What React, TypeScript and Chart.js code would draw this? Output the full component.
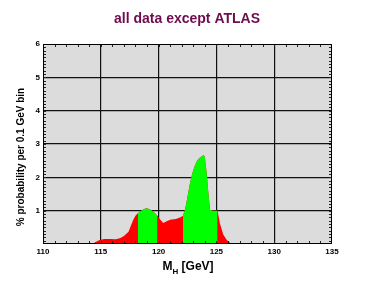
import { useEffect, useRef } from 'react';
import { Chart, registerables } from 'chart.js';

Chart.register(...registerables);

// Higgs mass (GeV) and probability (% per 0.1 GeV bin)
const massGeV = [
  114.3, 114.5, 114.9, 115.3, 115.8, 116.3, 116.7, 117.0, 117.4, 117.6, 117.8, 118.0,
  118.2, 118.5, 118.8, 119.0, 119.3, 119.6, 119.9,
  120.1, 120.4, 120.7, 121.0, 121.5, 121.9,
  122.1, 122.3, 122.5, 122.7, 122.9, 123.1, 123.3, 123.5, 123.7, 123.9, 124.0, 124.15, 124.3, 124.45, 124.7, 125.1,
  125.3, 125.6, 125.9, 126.3,
];
const probPercent = [
  0.0, 0.05, 0.12, 0.15, 0.15, 0.14, 0.18, 0.24, 0.37, 0.55, 0.72, 0.85,
  0.92, 1.0, 1.06, 1.07, 1.03, 0.95, 0.85,
  0.75, 0.63, 0.68, 0.73, 0.75, 0.8,
  0.85, 1.05, 1.42, 1.8, 2.1, 2.32, 2.48, 2.57, 2.62, 2.67, 2.6, 2.15, 1.55, 1.02, 1.0, 1.0,
  0.62, 0.28, 0.12, 0.0,
];
// 1-sigma (green) mass ranges
const greenBandStart = [118.2, 122.1];
const greenBandEnd = [119.9, 125.1];

const xTickValues = [110, 115, 120, 125, 130, 135];
const yTickValues = [0, 1, 2, 3, 4, 5, 6];
const titleText = 'all data except ATLAS';
const yTitleText = '% probability per 0.1 GeV bin';
const xTitleMain = 'M';
const xTitleSub = 'H';
const xTitleRest = ' [GeV]';

export default function App() {
  const ref = useRef<HTMLCanvasElement>(null);

  useEffect(() => {
    const canvas = ref.current;
    if (!canvas) return;
    const pts = massGeV.map((x, i) => ({ x, y: probPercent[i] }));
    const greens = greenBandStart.map((a, k) =>
      pts.filter((p) => p.x >= a - 1e-9 && p.x <= greenBandEnd[k] + 1e-9)
    );

    const decor = {
      id: 'decor',
      beforeDraw(chart: any) {
        const { ctx, chartArea: a } = chart;
        ctx.save();
        ctx.fillStyle = '#dcdcdc';
        ctx.fillRect(a.left, a.top, a.right - a.left, a.bottom - a.top);
        ctx.restore();
      },
      afterDraw(chart: any) {
        const { ctx, chartArea: a, scales } = chart;
        const xs = scales.x;
        const ys = scales.y;
        ctx.save();
        // minor ticks
        ctx.strokeStyle = '#222';
        ctx.lineWidth = 1;
        ctx.beginPath();
        for (let v = 111; v < 135; v++) {
          const px = Math.round(xs.getPixelForValue(v)) + 0.5;
          ctx.moveTo(px, a.bottom);
          ctx.lineTo(px, a.bottom - 3);
          ctx.moveTo(px, a.top);
          ctx.lineTo(px, a.top + 3);
        }
        for (let i = 1; i < 60; i++) {
          const py = Math.round(ys.getPixelForValue(i / 10)) + 0.5;
          ctx.moveTo(a.left, py);
          ctx.lineTo(a.left + 3, py);
          ctx.moveTo(a.right, py);
          ctx.lineTo(a.right - 3, py);
        }
        ctx.stroke();
        // border
        ctx.strokeStyle = '#000';
        ctx.lineWidth = 1;
        ctx.strokeRect(a.left + 0.5, a.top + 0.5, a.right - a.left - 1, a.bottom - a.top - 1);

        // main title
        ctx.fillStyle = '#6e0c4e';
        ctx.font = 'bold 14px "Liberation Sans", Arial, sans-serif';
        ctx.textAlign = 'center';
        ctx.textBaseline = 'alphabetic';
        ctx.fillText(titleText, 187, 22.5);

        // y title
        ctx.fillStyle = '#000';
        ctx.save();
        ctx.translate(21, 157);
        ctx.rotate(-Math.PI / 2);
        ctx.font = 'bold 10px "Liberation Sans", Arial, sans-serif';
        ctx.textAlign = 'center';
        ctx.textBaseline = 'middle';
        ctx.fillText(yTitleText, 0, 0);
        ctx.restore();

        // x title with subscript
        const big = 'bold 12px "Liberation Sans", Arial, sans-serif';
        const small = 'bold 8px "Liberation Sans", Arial, sans-serif';
        ctx.textAlign = 'left';
        ctx.font = big;
        const w1 = ctx.measureText(xTitleMain).width;
        const w3 = ctx.measureText(xTitleRest).width;
        ctx.font = small;
        const w2 = ctx.measureText(xTitleSub).width;
        let x0 = 188 - (w1 + w2 + w3) / 2;
        ctx.font = big;
        ctx.fillText(xTitleMain, x0, 270);
        x0 += w1;
        ctx.font = small;
        ctx.fillText(xTitleSub, x0, 274);
        x0 += w2;
        ctx.font = big;
        ctx.fillText(xTitleRest, x0, 270);
        ctx.restore();
      },
    };

    const tickFont = { family: '"Liberation Sans", Arial, sans-serif', size: 8, weight: 'bold' as const };

    const chart = new Chart(canvas, {
      type: 'line',
      data: {
        datasets: [
          ...greens.map((g) => ({
            data: g,
            backgroundColor: '#00ff00',
            borderColor: 'rgba(0,0,0,0)',
            borderWidth: 0,
            pointRadius: 0,
            fill: 'origin',
            tension: 0,
          })),
          {
            data: pts,
            backgroundColor: '#ff0000',
            borderColor: 'rgba(0,0,0,0)',
            borderWidth: 0,
            pointRadius: 0,
            fill: 'origin',
            tension: 0,
          },
        ],
      },
      options: {
        animation: false,
        responsive: false,
        events: [],
        layout: { padding: { top: 44, left: 0, right: 42, bottom: 0 } },
        plugins: { legend: { display: false }, title: { display: false }, tooltip: { enabled: false } },
        scales: {
          x: {
            type: 'linear',
            min: 110,
            max: 135,
            afterBuildTicks: (s: any) => {
              s.ticks = xTickValues.map((v) => ({ value: v }));
            },
            afterFit: (s: any) => {
              s.height = 45;
            },
            ticks: { color: '#000', font: tickFont, padding: 3, maxRotation: 0 },
            grid: {
              color: (c: any) => (c.tick && (c.tick.value === 110 || c.tick.value === 135) ? 'rgba(0,0,0,0)' : '#111'),
              lineWidth: 1.2,
              drawTicks: false,
            },
            border: { display: false },
          },
          y: {
            type: 'linear',
            min: 0,
            max: 6,
            afterBuildTicks: (s: any) => {
              s.ticks = yTickValues.map((v) => ({ value: v }));
            },
            afterFit: (s: any) => {
              s.width = 43;
            },
            ticks: {
              color: '#000',
              font: tickFont,
              padding: 3,
              callback: (v: any) => (v === 0 ? '' : String(v)),
            },
            grid: {
              color: (c: any) => (c.tick && (c.tick.value === 0 || c.tick.value === 6) ? 'rgba(0,0,0,0)' : '#111'),
              lineWidth: 1.2,
              drawTicks: false,
            },
            border: { display: false },
          },
        },
      },
      plugins: [decor],
    });

    return () => chart.destroy();
  }, []);

  return (
    <div style={{ position: 'fixed', left: 0, top: 0, width: 374, height: 289, background: '#fff' }}>
      <canvas ref={ref} width={374} height={289} style={{ display: 'block', width: 374, height: 289 }} />
    </div>
  );
}
